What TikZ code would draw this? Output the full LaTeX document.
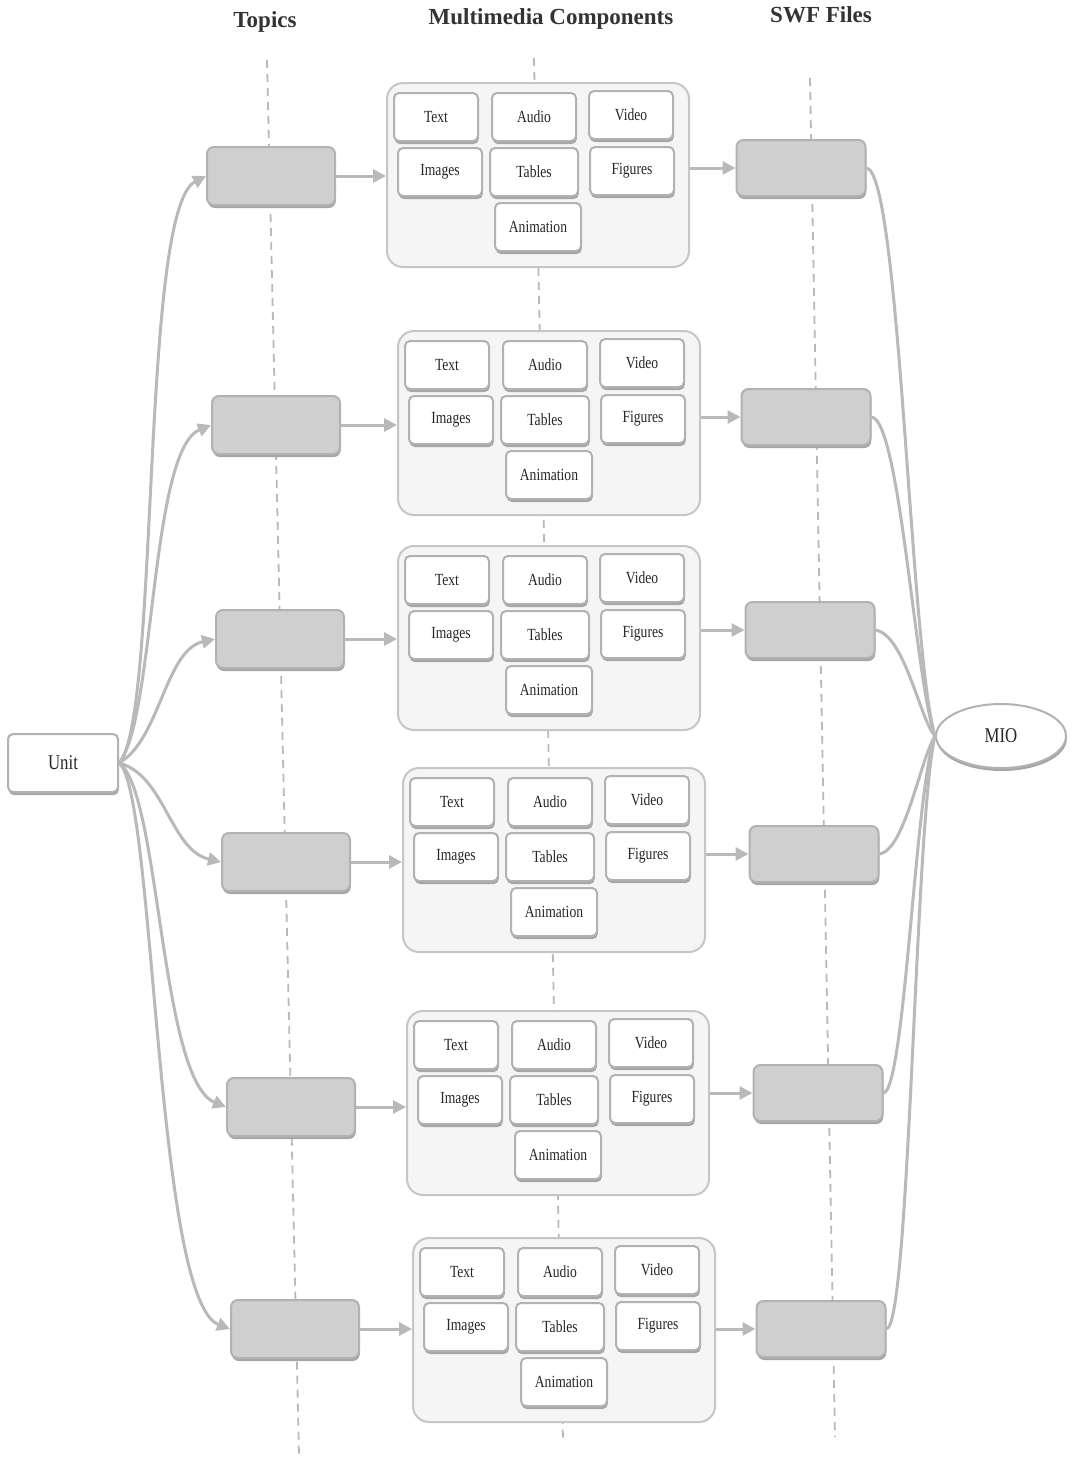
\documentclass[tikz,border=0pt]{standalone}
\usepackage{fontspec}
\setmainfont{Liberation Serif}
\newfontfamily\condfont[FakeStretch=0.8]{Liberation Serif}
\usetikzlibrary{arrows.meta,shadows,shapes.geometric}
\begin{document}
\begin{tikzpicture}[x=1pt,y=-1pt,
  mmline/.style={draw=gray!55, line width=3pt},
  mmarrow/.style={mmline, -{Triangle[length=13pt,width=13pt,fill=gray!55]}},
  guide/.style={draw=gray!55, line width=1.8pt, dash pattern=on 8pt off 6pt},
  boxshadow/.style={drop shadow={shadow xshift=0.8pt, shadow yshift=-3pt, fill=gray!70, opacity=1}},
  topicbox/.style={draw=gray!60, fill=gray!38, line width=2pt, rounded corners=7pt,
    minimum width=128pt, minimum height=58pt, boxshadow},
  contbox/.style={draw=gray!45, fill=gray!8, line width=2pt, rounded corners=16pt,
    minimum width=302pt, minimum height=184pt, anchor=north west},
  itembox/.style={draw=gray!60, fill=white, line width=2pt, rounded corners=5pt,
    minimum width=84pt, minimum height=48pt, text=black!85,
    font=\condfont\fontsize{17}{17}\selectfont, boxshadow},
  endbox/.style={draw=gray!60, fill=white, line width=2pt, text=black!85,
    font=\condfont\fontsize{21}{21}\selectfont, boxshadow},
  header/.style={font=\bfseries\fontsize{23}{23}\selectfont, text=black!80}
]
\useasboundingbox (0,0) rectangle (1074,1457);
\fill[white] (0,0) rectangle (1074,1457);

% headers
\node[header] (hT) at (265,22) {Topics};
\node[header] (hM) at (551,19) {Multimedia Components};
\node[header] (hS) at (821,15) {SWF Files};

% guide lines
\coordinate (gT1) at (267,60);  \coordinate (gT2) at (299,1455);
\coordinate (gM1) at (534,58);  \coordinate (gM2) at (563,1440);
\coordinate (gS1) at (810,78);  \coordinate (gS2) at (835,1437);
\draw[guide] (gT1) -- (gT2);
\draw[guide] (gM1) -- (gM2);
\draw[guide] (gS1) -- (gS2);

% end nodes
\node[endbox, rounded corners=5pt, minimum width=110pt, minimum height=58pt] (u) at (63,763) {Unit};
\node[endbox, ellipse, minimum width=130pt, minimum height=64pt] (mio) at (1001,736) {MIO};

% rows
\foreach \i/\tx/\ty/\cx/\cy/\sx/\sy in {
  1/271/176/386/82/801/168,
  2/276/425/397/330/806/417,
  3/280/639/397/545/810/630,
  4/286/862/402/767/814/854,
  5/291/1107/406/1010/818/1093,
  6/295/1329/412/1237/821/1329}{
  \node[topicbox] (t\i) at (\tx,\ty) {};
  \node[topicbox, minimum width=129pt, minimum height=56pt] (s\i) at (\sx,\sy) {};
  \node[contbox] (c\i) at (\cx,\cy) {};
  \node[itembox] (c\i-text)  at (\cx+50,\cy+35)  {Text};
  \node[itembox] (c\i-audio) at (\cx+148,\cy+35) {Audio};
  \node[itembox] (c\i-video) at (\cx+245,\cy+33) {Video};
  \node[itembox] (c\i-img)   at (\cx+54,\cy+90)  {Images};
  \node[itembox, minimum width=88pt] (c\i-tab) at (\cx+148,\cy+90) {Tables};
  \node[itembox] (c\i-fig)   at (\cx+246,\cy+89) {Figures};
  \node[itembox, minimum width=86pt] (c\i-anim) at (\cx+152,\cy+145) {Animation};
  \draw[mmarrow] (t\i.east) -- (t\i.east -| c\i.west);
  \draw[mmarrow] (s\i.west -| c\i.east) -- (s\i.west);
}

% Unit -> topics
\foreach \i/\ax/\ay/\bx/\by in {
  1/160/720/140/210,
  2/155/720/150/450,
  3/160/740/165/650,
  4/165/775/170/850,
  5/160/790/160/1080,
  6/155/790/155/1300}{
  \draw[mmarrow] (u.east) .. controls (\ax,\ay) and (\bx,\by) .. (t\i.west);
}

% SWF -> MIO
\foreach \i/\ax/\ay/\bx/\by in {
  1/900/172/910/650,
  2/900/420/915/680,
  3/905/635/920/720,
  4/905/850/920/760,
  5/905/1090/915/790,
  6/910/1325/915/820}{
  \draw[mmline] (s\i.east) .. controls (\ax,\ay) and (\bx,\by) .. (mio.west);
}
\end{tikzpicture}
\end{document}
